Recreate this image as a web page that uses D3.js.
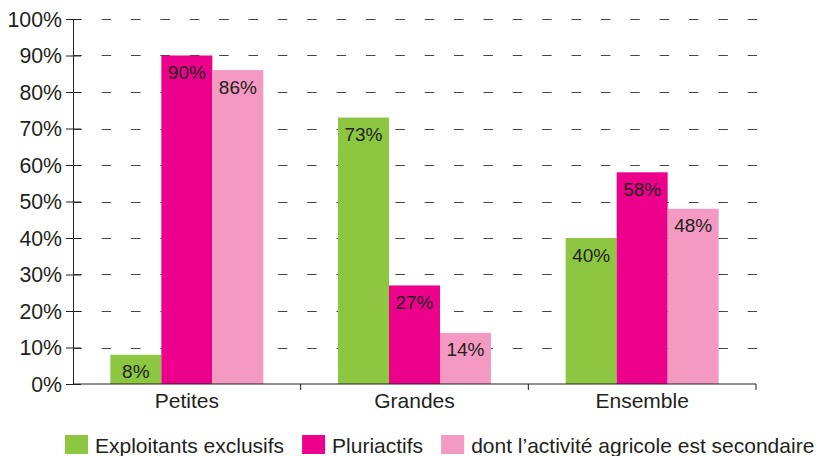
<!DOCTYPE html>
<html>
<head>
<meta charset="utf-8">
<script src="https://cdn.jsdelivr.net/npm/d3@7"></script>
<style>
  html, body { margin: 0; padding: 0; background: #fff; }
  svg text { font-family: "Liberation Sans", Arial, Helvetica, sans-serif; fill: #231f20; }
</style>
</head>
<body>
<svg id="chart" width="819" height="456"></svg>
<script>
// Exploitations by size: share of farmers by status (%)
const categories = ["Petites", "Grandes", "Ensemble"];
const seriesNames = ["Exploitants exclusifs", "Pluriactifs", "dont l\u2019activité agricole est secondaire"];
const exclusifs = [8, 73, 40];
const pluriactifs = [90, 27, 58];
const secondaire = [86, 14, 48];
const yTicks = [0, 10, 20, 30, 40, 50, 60, 70, 80, 90, 100];

const colors = ["#8dc641", "#ec008c", "#f49ac2"];
const seriesValues = [exclusifs, pluriactifs, secondaire];

const W = 819, H = 456;
const margin = { top: 19, right: 63, bottom: 72, left: 73 };
const svg = d3.select("#chart");

const x0 = d3.scaleBand().domain(categories).range([margin.left, W - margin.right]);
const bw = x0.bandwidth();
const groupW = bw * 0.672;
const x1 = d3.scaleBand().domain(d3.range(seriesNames.length))
  .range([(bw - groupW) / 2, (bw + groupW) / 2]);
const y = d3.scaleLinear().domain([0, 100]).range([H - margin.bottom, margin.top]);

const x0px = margin.left, x1px = W - margin.right;

// dashed horizontal grid
const period = (747.7 - 72.3) / 23;
svg.append("g").selectAll("line").data(yTicks.slice(1)).join("line")
  .attr("x1", x0px).attr("x2", x1px + 1)
  .attr("y1", d => Math.round(y(d)) + 0.5).attr("y2", d => Math.round(y(d)) + 0.5)
  .attr("stroke", "#444").attr("stroke-width", 1.2)
  .attr("stroke-dasharray", `9.5,${period - 9.5}`)
  .attr("stroke-dashoffset", 0.7);

// bars
const groups = svg.append("g").selectAll("g").data(categories).join("g")
  .attr("transform", c => `translate(${x0(c)},0)`);

groups.selectAll("rect")
  .data((c, ci) => seriesValues.map((vals, si) => ({ si, v: vals[ci] })))
  .join("rect")
  .attr("x", d => x1(d.si))
  .attr("width", x1.bandwidth())
  .attr("y", d => y(d.v))
  .attr("height", d => y(0) - y(d.v))
  .attr("fill", d => colors[d.si]);

groups.selectAll("text")
  .data((c, ci) => seriesValues.map((vals, si) => ({ si, v: vals[ci] })))
  .join("text")
  .attr("x", d => x1(d.si) + x1.bandwidth() / 2)
  .attr("y", d => y(d.v) + 23.5)
  .attr("text-anchor", "middle")
  .attr("font-size", 19)
  .text(d => d.v + "%");

// y axis
const yAxis = svg.append("g").attr("transform", `translate(${x0px},0)`)
  .call(d3.axisLeft(y).tickValues(yTicks).tickFormat(d => d + "%").tickSize(7).tickPadding(4));
yAxis.select(".domain").attr("stroke", "#231f20");
yAxis.selectAll(".tick line").attr("x2", 8).attr("x1", -7).attr("stroke", "#231f20");
yAxis.selectAll(".tick text").attr("font-size", 21.3).attr("x", -11).attr("dy", "0.34em")
  .style("font-family", '"Liberation Sans", Arial, sans-serif').attr("fill", "#231f20");

// x axis with ticks at band edges
const xg = svg.append("g").attr("transform", `translate(0,${y(0)})`);
xg.append("line").attr("x1", x0px).attr("x2", x1px).attr("stroke", "#231f20");
xg.selectAll("line.edge").data(categories.slice(1).concat([null])).join("line")
  .attr("class", "edge")
  .attr("x1", c => c ? x0(c) : x1px).attr("x2", c => c ? x0(c) : x1px)
  .attr("y1", 0).attr("y2", 6).attr("stroke", "#231f20");
xg.selectAll("text").data(categories).join("text")
  .attr("x", c => x0(c) + bw / 2).attr("y", 23.5)
  .attr("text-anchor", "middle").attr("font-size", 21)
  .text(c => c);

// legend
const legend = svg.append("g").attr("transform", "translate(65,435)");
let lx = 0;
seriesNames.forEach((name, i) => {
  const g = legend.append("g").attr("transform", `translate(${lx},0)`);
  g.append("rect").attr("width", 23).attr("height", 19).attr("fill", colors[i]);
  const t = g.append("text").attr("x", 30).attr("y", 18).attr("font-size", 21).text(name);
  lx += 30 + t.node().getComputedTextLength() + 18;
});
</script>
</body>
</html>
